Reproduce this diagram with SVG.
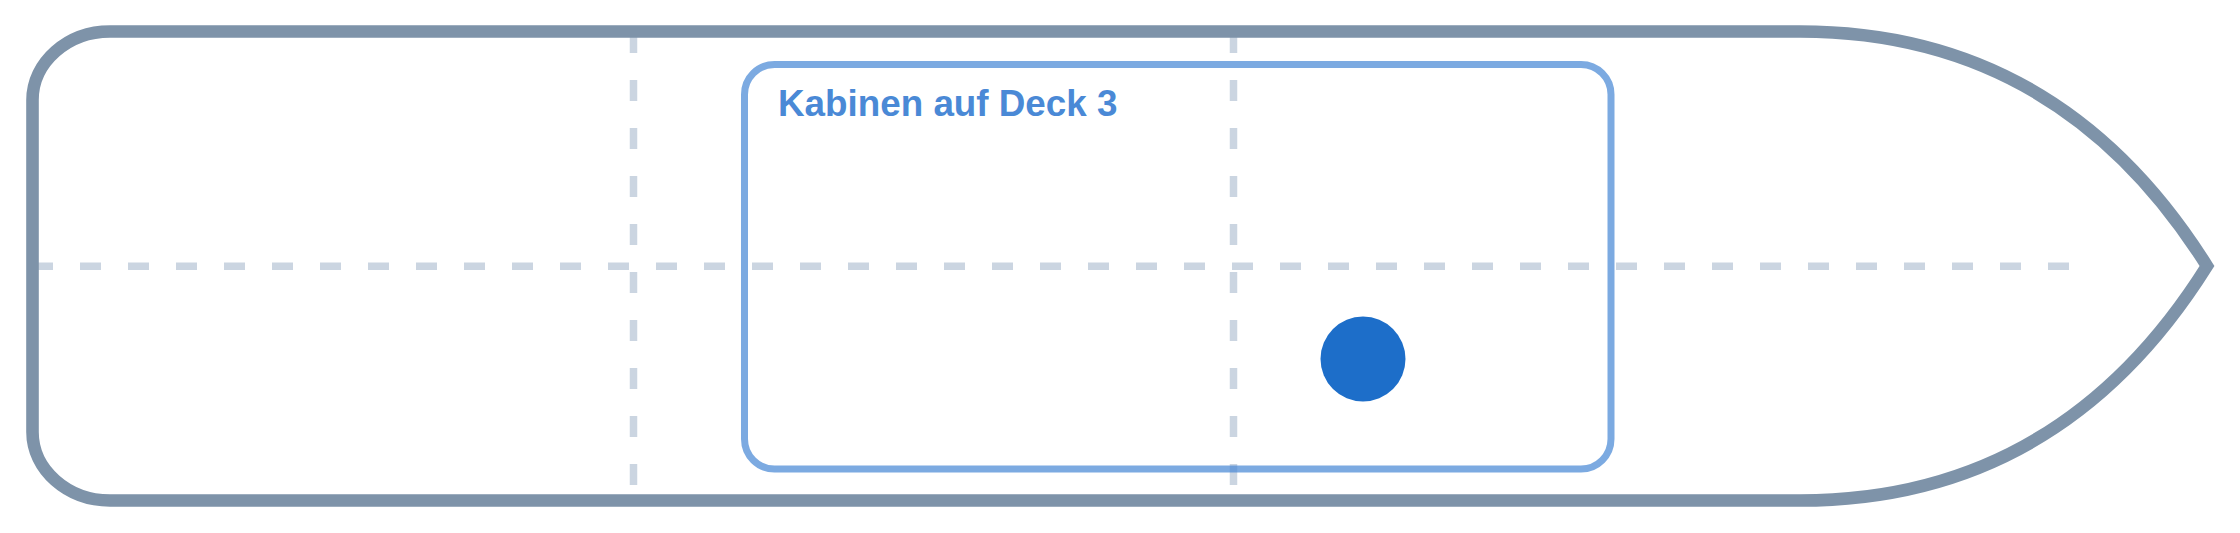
<svg xmlns="http://www.w3.org/2000/svg" width="2240" height="533" viewBox="0 0 2240 533">
  <style>
    .guide { stroke: #cbd5e1; stroke-width: 7.5; stroke-dasharray: 21 27; fill: none; }
    .hull { fill: none; stroke: #7e93a9; stroke-width: 12.6; stroke-linejoin: miter; }
    .cabin { fill: none; stroke: #4a89d6; stroke-opacity: 0.72; stroke-width: 7; }
    .label { font-family: "Liberation Sans", Arial, Helvetica, sans-serif; font-weight: bold; font-size: 36.8px; fill: #4a89d6; }
    .marker { fill: #1d6ec9; }
  </style>
  <rect width="2240" height="533" fill="#ffffff"/>
  <g id="guides">
    <line class="guide" x1="32" y1="266.3" x2="2072" y2="266.3"/>
    <line class="guide" x1="633.5" y1="32" x2="633.5" y2="500"/>
    <line class="guide" x1="1233.5" y1="32" x2="1233.5" y2="500"/>
  </g>
  <g id="hull">
    <path class="hull" d="M 110 31.5 H 1800 Q 2060 31.5 2207 266 Q 2060 500.5 1800 500.5 H 110 C 67.4 500.5 32.5 469.7 32.5 432 V 100 C 32.5 62.3 67.4 31.5 110 31.5 Z"/>
  </g>
  <g id="cabins-deck-3">
    <rect class="cabin" x="744.5" y="64.5" width="866.5" height="404.5" rx="30" ry="30"/>
    <text class="label" x="778" y="116">Kabinen auf Deck 3</text>
  </g>
  <g id="position-marker">
    <circle class="marker" cx="1363" cy="359" r="42.5"/>
  </g>
  <g id="connectors"/>
</svg>
